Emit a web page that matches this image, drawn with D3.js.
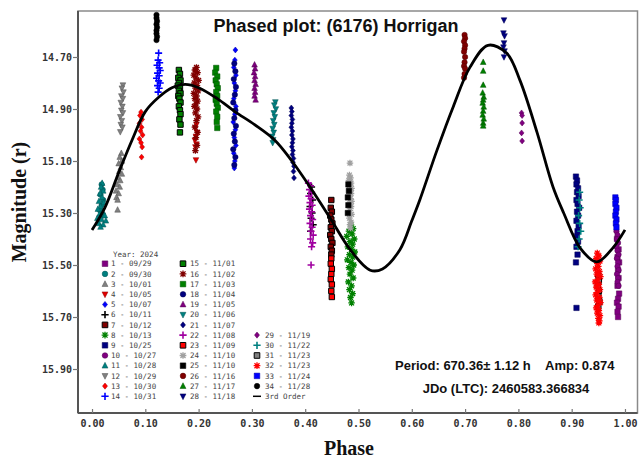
<!DOCTYPE html>
<html>
<head>
<meta charset="utf-8">
<title>Phased plot: (6176) Horrigan</title>
<style>
  html, body { margin: 0; padding: 0; background: #fff; }
  svg { display: block; }
</style>
<script src="https://d3js.org/d3.v7.min.js"></script>
</head>
<body>
<svg id="chart" width="639" height="461"></svg>
<script>
// ---- data ----
const sessionDates = ["09/29","09/30","10/01","10/05","10/07","10/11","10/12","10/13","10/25","10/27",
  "10/28","10/29","10/30","10/31","11/01","11/02","11/03","11/04","11/05","11/06","11/07","11/08",
  "11/09","11/10","11/10","11/16","11/17","11/18","11/19","11/22","11/23","11/23","11/24","11/28"];

const s01 = [[0.987,15.52],[0.988,15.55],[0.986,15.58],[0.989,15.61],[0.987,15.63],[0.985,15.645],[0.988,15.66],[0.986,15.68],[0.987,15.70],[0.985,15.40],[0.988,15.44],[0.986,15.47],[0.989,15.49]];
const s02 = [[0.018,15.19],[0.020,15.21],[0.016,15.23],[0.021,15.25],[0.018,15.27],[0.015,15.29],[0.020,15.31]];
const s03 = [[0.055,15.07],[0.052,15.085],[0.056,15.10],[0.050,15.11],[0.054,15.125],[0.051,15.14],[0.056,15.15],[0.049,15.165],[0.053,15.175],[0.047,15.19],[0.052,15.20],[0.045,15.215],[0.050,15.225],[0.046,15.24],[0.048,15.25],[0.048,15.288]];
const s04 = [[0.196,14.96],[0.194,14.975],[0.197,14.99],[0.195,15.005],[0.193,15.02],[0.196,15.035],[0.194,15.046],[0.195,15.096]];
const s05 = [[0.269,14.673],[0.268,14.712],[0.266,14.74],[0.270,14.77],[0.267,14.80],[0.269,14.83],[0.266,14.86],[0.270,14.89],[0.268,14.92],[0.265,14.95],[0.269,14.98],[0.267,15.01],[0.270,15.04],[0.266,15.07],[0.268,15.10],[0.267,15.127]];
const s06 = [[0.412,15.20],[0.410,15.225],[0.414,15.25],[0.409,15.275],[0.413,15.30],[0.411,15.32],[0.415,15.345],[0.410,15.37]];
const s07 = [[0.449,15.25],[0.448,15.28],[0.450,15.295],[0.447,15.31],[0.449,15.325],[0.451,15.34],[0.448,15.355],[0.450,15.37],[0.447,15.385],[0.449,15.40],[0.451,15.415],[0.448,15.43],[0.450,15.445],[0.449,15.46]];
const s08 = [[0.486,15.346],[0.490,15.36],[0.482,15.37],[0.488,15.38],[0.478,15.39],[0.492,15.40],[0.484,15.41],[0.489,15.42],[0.480,15.43],[0.487,15.44],[0.493,15.45],[0.483,15.46],[0.489,15.47],[0.479,15.48],[0.486,15.49],[0.491,15.50],[0.482,15.51],[0.488,15.52],[0.484,15.535],[0.490,15.55],[0.481,15.565],[0.487,15.58],[0.483,15.595],[0.489,15.61],[0.485,15.625],[0.487,15.646]];
const s09 = [[0.908,15.16],[0.910,15.175],[0.909,15.19],[0.912,15.205],[0.910,15.22],[0.913,15.235],[0.909,15.25],[0.911,15.265],[0.914,15.28],[0.910,15.295],[0.912,15.31],[0.909,15.33],[0.913,15.35],[0.911,15.37],[0.910,15.39],[0.912,15.41],[0.909,15.43],[0.911,15.46],[0.908,15.49],[0.909,15.665]];
const s10 = [[0.984,15.37],[0.986,15.385],[0.985,15.40],[0.987,15.415],[0.984,15.43],[0.986,15.445],[0.988,15.46],[0.985,15.475],[0.987,15.49],[0.986,15.505],[0.988,15.52],[0.985,15.535],[0.987,15.55],[0.986,15.565],[0.988,15.58]];
const s11 = [[0.019,15.185],[0.017,15.20],[0.021,15.215],[0.015,15.225],[0.019,15.24],[0.013,15.255],[0.022,15.26],[0.016,15.275],[0.011,15.285],[0.020,15.295],[0.014,15.305],[0.024,15.31],[0.010,15.32],[0.018,15.325],[0.026,15.33],[0.013,15.34],[0.021,15.345],[0.016,15.354]];
const s12 = [[0.058,14.808],[0.056,14.82],[0.059,14.835],[0.055,14.85],[0.058,14.86],[0.054,14.875],[0.057,14.89],[0.055,14.905],[0.058,14.915],[0.053,14.93],[0.056,14.945],[0.054,14.96],[0.057,14.97],[0.053,14.988]];
const s13 = [[0.092,14.912],[0.090,14.925],[0.094,14.94],[0.089,14.955],[0.093,14.97],[0.091,14.985],[0.095,15.00],[0.089,15.015],[0.092,15.03],[0.094,15.046],[0.093,15.085]];
const s14 = [[0.125,14.685],[0.124,14.712],[0.127,14.722],[0.122,14.732],[0.126,14.742],[0.128,14.752],[0.123,14.762],[0.126,14.772],[0.121,14.782],[0.125,14.792],[0.128,14.80],[0.123,14.81],[0.126,14.82],[0.124,14.835]];
const s15 = [[0.163,14.75],[0.165,14.765],[0.162,14.78],[0.166,14.79],[0.163,14.80],[0.161,14.81],[0.165,14.82],[0.163,14.83],[0.166,14.84],[0.162,14.85],[0.164,14.86],[0.166,14.875],[0.163,14.89],[0.165,14.905],[0.166,14.92],[0.164,14.94],[0.166,14.96],[0.165,14.99]];
const s16 = [[0.196,14.74],[0.193,14.75],[0.198,14.76],[0.191,14.77],[0.195,14.78],[0.200,14.79],[0.192,14.80],[0.197,14.81],[0.194,14.82],[0.199,14.83],[0.191,14.84],[0.196,14.85],[0.193,14.86],[0.198,14.87],[0.195,14.88],[0.192,14.89],[0.197,14.90],[0.194,14.915],[0.199,14.93],[0.196,14.945],[0.193,14.97],[0.198,14.99],[0.195,15.01],[0.197,15.04],[0.194,15.06]];
const s17 = [[0.233,14.742],[0.231,14.76],[0.235,14.775],[0.232,14.79],[0.234,14.805],[0.236,14.82],[0.233,14.835],[0.235,14.85],[0.232,14.865],[0.234,14.88],[0.236,14.895],[0.233,14.91],[0.235,14.93],[0.234,14.95],[0.235,14.973]];
const s18 = [[0.267,14.725],[0.269,14.755],[0.266,14.785],[0.270,14.815],[0.268,14.845],[0.265,14.875],[0.269,14.905],[0.267,14.935],[0.270,14.965],[0.266,14.995],[0.268,15.025],[0.265,15.055],[0.269,15.085],[0.267,15.115]];
const s19 = [[0.305,14.73],[0.306,14.745],[0.304,14.76],[0.306,14.775],[0.305,14.79],[0.307,14.805],[0.305,14.82],[0.306,14.835],[0.305,14.85],[0.307,14.865]];
const s20 = [[0.344,14.873],[0.342,14.885],[0.345,14.90],[0.341,14.915],[0.343,14.93],[0.340,14.945],[0.342,14.96],[0.339,14.975],[0.341,14.99],[0.338,15.005],[0.340,15.018],[0.339,15.03]];
const s21 = [[0.374,14.896],[0.375,14.91],[0.374,14.925],[0.376,14.94],[0.375,14.955],[0.374,14.97],[0.376,14.985],[0.375,15.00],[0.377,15.015],[0.376,15.03],[0.375,15.045],[0.377,15.06],[0.376,15.075],[0.378,15.09],[0.377,15.105],[0.379,15.12],[0.378,15.14],[0.379,15.165]];
const s22 = [[0.406,15.185],[0.410,15.195],[0.408,15.21],[0.412,15.22],[0.407,15.235],[0.411,15.245],[0.409,15.26],[0.413,15.27],[0.408,15.285],[0.412,15.295],[0.410,15.31],[0.414,15.325],[0.409,15.34],[0.413,15.355],[0.411,15.37],[0.415,15.385],[0.410,15.40],[0.414,15.415],[0.412,15.43],[0.411,15.50]];
const s23 = [[0.449,15.475],[0.448,15.495],[0.450,15.515],[0.449,15.535],[0.448,15.555],[0.450,15.575],[0.449,15.60],[0.450,15.623]];
const s24 = [[0.484,15.108],[0.483,15.154],[0.485,15.165],[0.482,15.175],[0.486,15.185],[0.483,15.195],[0.487,15.205],[0.484,15.215],[0.486,15.225],[0.482,15.235],[0.485,15.245],[0.487,15.255],[0.483,15.265],[0.486,15.275],[0.484,15.29],[0.487,15.305],[0.483,15.32],[0.486,15.335],[0.484,15.345],[0.485,15.358]];
const s25 = [[0.481,15.19],[0.482,15.215],[0.480,15.24],[0.481,15.27],[0.480,15.30]];
const s26 = [[0.699,14.615],[0.700,14.628],[0.698,14.64],[0.700,14.655],[0.699,14.668],[0.698,14.68],[0.700,14.70],[0.699,14.72],[0.698,14.735],[0.700,14.745],[0.699,14.765],[0.698,14.78]];
const s27 = [[0.734,14.72],[0.734,14.754],[0.734,14.808],[0.733,14.838],[0.735,14.854],[0.734,14.865],[0.733,14.877],[0.735,14.892],[0.734,14.908],[0.733,14.923],[0.735,14.938],[0.734,14.954],[0.734,14.965]];
const s28 = [[0.773,14.558],[0.772,14.608],[0.774,14.619],[0.773,14.646],[0.772,14.662],[0.774,14.677],[0.773,14.70]];
const s29 = [[0.806,14.915],[0.807,14.925],[0.807,14.954],[0.806,14.992],[0.807,15.023]];
const s30 = [[0.915,15.22],[0.914,15.25],[0.916,15.28],[0.913,15.31],[0.915,15.34],[0.917,15.37],[0.914,15.40],[0.912,15.43]];
const s31 = [[0.950,15.54],[0.951,15.56],[0.949,15.58],[0.951,15.60],[0.950,15.62],[0.952,15.64],[0.950,15.66]];
const s32 = [[0.948,15.454],[0.951,15.465],[0.946,15.475],[0.953,15.485],[0.948,15.495],[0.950,15.505],[0.945,15.515],[0.952,15.525],[0.947,15.535],[0.954,15.545],[0.949,15.555],[0.944,15.565],[0.951,15.575],[0.946,15.585],[0.953,15.595],[0.948,15.605],[0.945,15.615],[0.952,15.625],[0.947,15.635],[0.954,15.645],[0.949,15.655],[0.946,15.665],[0.951,15.675],[0.948,15.685],[0.953,15.695],[0.950,15.705],[0.952,15.715],[0.951,15.723]];
const s33 = [[0.982,15.24],[0.983,15.25],[0.982,15.265],[0.984,15.28],[0.983,15.295],[0.982,15.31],[0.984,15.325],[0.983,15.34],[0.984,15.355]];
const s34 = [[0.121,14.538],[0.121,14.55],[0.122,14.562],[0.121,14.574],[0.122,14.586],[0.121,14.598],[0.121,14.61],[0.122,14.622],[0.121,14.635]];

const sessionPoints = [s01,s02,s03,s04,s05,s06,s07,s08,s09,s10,s11,s12,s13,s14,s15,s16,s17,
  s18,s19,s20,s21,s22,s23,s24,s25,s26,s27,s28,s29,s30,s31,s32,s33,s34];

// 3rd order fit
const fitPhase = [0.000,0.024,0.049,0.075,0.100,0.125,0.150,0.175,0.200,0.235,0.268,0.305,0.343,0.375,0.409,0.447,0.484,0.522,0.545,0.578,0.600,0.615,0.647,0.678,0.709,0.743,0.778,0.803,0.835,0.865,0.885,0.916,0.947,0.977,1.000];
const fitMag   = [15.365,15.28,15.15,15.02,14.91,14.855,14.818,14.805,14.818,14.86,14.91,14.96,15.02,15.10,15.20,15.32,15.44,15.52,15.515,15.44,15.33,15.25,15.06,14.89,14.74,14.655,14.685,14.79,14.99,15.20,15.30,15.435,15.488,15.435,15.365];

const xTicks = [0,0.1,0.2,0.3,0.4,0.5,0.6,0.7,0.8,0.9,1.0];
const yTicks = [14.7,14.9,15.1,15.3,15.5,15.7,15.9];

// marker look for each session (shape, fill, edge)
const markerStyle = [
  ["square","#800080"],["circle","#008080"],["tri","#808080"],["dtri","#e00000"],["diamond","#0000ff"],
  ["plus","#000000"],["square","#800000","#000"],["star","#008000"],["square","#000080"],["circle","#800080"],
  ["tri","#008080"],["dtri","#808080"],["diamond","#ff0000"],["plus","#0000ff"],["square","#008000","#000"],
  ["star","#800000"],["square","#008000"],["circle","#000080"],["tri","#800080"],["dtri","#008080"],
  ["diamond","#000080"],["plus","#a000a0"],["square","#ff0000","#000"],["star","#a0a0a0"],["square","#000000"],
  ["circle","#800000"],["tri","#008000"],["dtri","#000080"],["diamond","#800080"],["plus","#008080"],
  ["square","#808080","#000"],["star","#ff0000"],["square","#0000ff"],["circle","#000000"]
];

const svg = d3.select("#chart");
const x = d3.scaleLinear().domain([-0.0263, 1.0235]).range([78, 637.5]);
const y = d3.scaleLinear().domain([14.5231, 16.0692]).range([11, 413]);

function markerPath(shape, r) {
  const p = d3.path();
  if (shape === "square") { p.rect(-r, -r, 2 * r, 2 * r); }
  else if (shape === "circle") { p.arc(0, 0, r, 0, 2 * Math.PI); }
  else if (shape === "tri") { p.moveTo(0, -r * 1.2); p.lineTo(r * 1.05, r * 0.85); p.lineTo(-r * 1.05, r * 0.85); p.closePath(); }
  else if (shape === "dtri") { p.moveTo(0, r * 1.2); p.lineTo(r * 1.05, -r * 0.85); p.lineTo(-r * 1.05, -r * 0.85); p.closePath(); }
  else if (shape === "diamond") { p.moveTo(0, -r * 1.1); p.lineTo(r * 0.9, 0); p.lineTo(0, r * 1.1); p.lineTo(-r * 0.9, 0); p.closePath(); }
  else if (shape === "plus") { p.moveTo(-r * 1.3, 0); p.lineTo(r * 1.3, 0); p.moveTo(0, -r * 1.3); p.lineTo(0, r * 1.3); }
  else if (shape === "star") {
    p.moveTo(-r * 1.2, 0); p.lineTo(r * 1.2, 0); p.moveTo(0, -r * 1.2); p.lineTo(0, r * 1.2);
    p.moveTo(-r * 0.9, -r * 0.9); p.lineTo(r * 0.9, r * 0.9); p.moveTo(-r * 0.9, r * 0.9); p.lineTo(r * 0.9, -r * 0.9);
  }
  return p.toString();
}

function drawMarker(sel, style, r) {
  const shape = style[0], col = style[1];
  if (shape === "plus" || shape === "star") {
    sel.attr("d", markerPath(shape, r)).attr("fill", "none")
      .attr("stroke", col).attr("stroke-width", shape === "plus" ? 1.6 : 1.3);
  } else {
    const edge = style[2] || d3.color(col).darker(1.2).formatHex();
    sel.attr("d", markerPath(shape, r)).attr("fill", col)
      .attr("stroke", edge).attr("stroke-width", style[2] ? 1 : 0.5);
  }
}

// frame
svg.append("rect").attr("x", 78).attr("y", 11).attr("width", 559.5).attr("height", 402)
  .attr("fill", "none").attr("stroke", "#8a8a8a").attr("stroke-width", 1.5);

// points
const plot = svg.append("g");
sessionPoints.forEach(function(pts, i) {
  plot.selectAll(null).data(pts).enter().append("path")
    .attr("transform", d => "translate(" + x(d[0]) + "," + y(d[1]) + ")")
    .each(function() { drawMarker(d3.select(this), markerStyle[i], 2.7); });
});

// fit line
const line = d3.line().x((d, i) => x(fitPhase[i])).y(d => y(d)).curve(d3.curveCatmullRom.alpha(0.5));
plot.append("path").attr("d", line(fitMag)).attr("fill", "none")
  .attr("stroke", "#000").attr("stroke-width", 2.8);

// axes
const yAxis = svg.append("g").attr("transform", "translate(78,0)")
  .call(d3.axisLeft(y).tickValues(yTicks).tickFormat(d3.format(".2f")).tickSize(5).tickPadding(1));
const xAxis = svg.append("g").attr("transform", "translate(0,413)")
  .call(d3.axisBottom(x).tickValues(xTicks).tickFormat(d3.format(".2f")).tickSize(-4).tickPadding(7));
[xAxis, yAxis].forEach(function(a) {
  a.select(".domain").attr("stroke", "#555").attr("stroke-width", 2);
  a.selectAll(".tick line").attr("stroke", "#777").attr("stroke-width", 1.2);
  a.selectAll(".tick text").attr("font-family", "DejaVu Sans Mono").attr("font-weight", "bold")
    .attr("font-size", "10px").attr("fill", "#333");
});
xAxis.select(".domain").attr("d", "M78,0H637.5");
yAxis.select(".domain").attr("d", "M0,11V413");

// titles
svg.append("text").attr("x", 336).attr("y", 32).attr("text-anchor", "middle")
  .attr("font-family", "Liberation Sans, Arial, sans-serif").attr("font-weight", "bold")
  .attr("font-size", "18px").attr("fill", "#111").text("Phased plot: (6176) Horrigan");
svg.append("text").attr("transform", "translate(26,202) rotate(-90)").attr("text-anchor", "middle")
  .attr("font-family", "Liberation Serif, Times New Roman, serif").attr("font-weight", "bold")
  .attr("font-size", "20px").attr("fill", "#111").text("Magnitude (r)");
svg.append("text").attr("x", 349).attr("y", 455).attr("text-anchor", "middle")
  .attr("font-family", "Liberation Serif, Times New Roman, serif").attr("font-weight", "bold")
  .attr("font-size", "20px").attr("fill", "#111").text("Phase");

// info text
const info = svg.append("g").attr("font-family", "Liberation Sans, Arial, sans-serif")
  .attr("font-weight", "bold").attr("font-size", "13px").attr("fill", "#111");
info.append("text").attr("x", 395).attr("y", 370).text("Period: 670.36\u00b1 1.12 h");
info.append("text").attr("x", 545).attr("y", 370).text("Amp: 0.874");
info.append("text").attr("x", 506).attr("y", 393).attr("text-anchor", "middle").text("JDo (LTC): 2460583.366834");

// legend
const leg = svg.append("g").attr("font-family", "DejaVu Sans Mono, monospace")
  .attr("font-size", "7.5px").attr("fill", "#444");
leg.append("text").attr("x", 113).attr("y", 256.5).text("Year: 2024");
const legCols = [{sx: 105, tx: 111}, {sx: 183, tx: 190}, {sx: 257, tx: 265}];
function legendPos(i) {
  if (i < 14) return {c: legCols[0], r: i};
  if (i < 28) return {c: legCols[1], r: i - 14};
  return {c: legCols[2], r: i - 28 + 7};
}
sessionDates.forEach(function(d, i) {
  const p = legendPos(i), yy = 263.7 + 10.2 * p.r;
  const m = leg.append("path").attr("transform", "translate(" + p.c.sx + "," + yy + ")");
  drawMarker(m, markerStyle[i], 2.8);
  leg.append("text").attr("x", p.c.tx).attr("y", yy + 2.7).text((i + 1) + " - " + d);
});
const lp = legendPos(34), ly = 263.7 + 10.2 * lp.r;
leg.append("line").attr("x1", lp.c.sx - 4).attr("x2", lp.c.sx + 4).attr("y1", ly).attr("y2", ly)
  .attr("stroke", "#000").attr("stroke-width", 1.5);
leg.append("text").attr("x", lp.c.tx).attr("y", ly + 2.7).text("3rd Order");
</script>
</body>
</html>
